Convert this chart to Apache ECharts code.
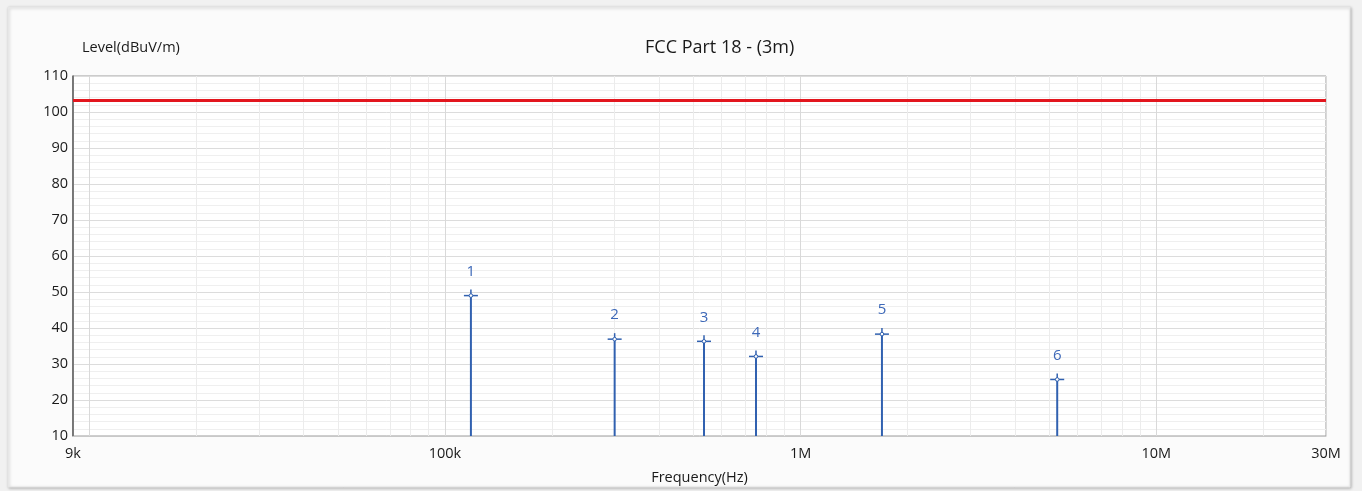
<!DOCTYPE html>
<html>
<head>
<meta charset="utf-8">
<script src="https://cdn.jsdelivr.net/npm/echarts@6/dist/echarts.min.js"></script>
<style>
html,body{margin:0;padding:0;background:#f1f1f1;}
#c{width:1362px;height:491px;}
</style>
</head>
<body>
<div id="c"></div>
<script>
// ---- data ----
var peakLabels = ['1','2','3','4','5','6'];
var peakFreqs  = [118300, 300000, 535000, 749000, 1693000, 5265000];
var peakLevels = [49.0, 36.9, 36.3, 32.1, 38.3, 25.7];
var limitFreqs  = [9000, 30000000];
var limitLevels = [103.2, 103.2];
var xTickValues = [9000, 100000, 1000000, 10000000, 30000000];
var xTickLabels = ['9k', '100k', '1M', '10M', '30M'];
var yMin = 10, yMax = 110, yStep = 10;
var xMin = 9000, xMax = 30000000;

// minor vertical grid positions (2..9 x decade)
var minorFreqs = [];
[1e4, 1e5, 1e6, 1e7].forEach(function (d) {
  for (var k = 2; k <= 9; k++) { var f = d * k; if (f > xMin && f < xMax) minorFreqs.push(f); }
});

var FONT = '"Open Sans", "Noto Sans", sans-serif';
var chart = echarts.init(document.getElementById('c'), null, {renderer: 'canvas'});

function xLabel(v) {
  for (var i = 0; i < xTickValues.length; i++) {
    if (Math.abs(v - xTickValues[i]) / xTickValues[i] < 1e-6) return xTickLabels[i];
  }
  return '';
}

var peakData = peakFreqs.map(function (f, i) { return [f, peakLevels[i], peakLabels[i]]; });
var limitData = limitFreqs.map(function (f, i) { return [f, limitLevels[i]]; });

var BLUE = '#3161b0';

chart.setOption({
  animation: false,
  backgroundColor: 'transparent',
  graphic: [{
    type: 'rect', z: -10,
    shape: {x: 8, y: 7, width: 1342, height: 480},
    style: {fill: '#fbfbfb', stroke: '#e4e4e4', lineWidth: 1,
            shadowBlur: 3, shadowColor: 'rgba(0,0,0,0.25)', shadowOffsetX: 1, shadowOffsetY: 1}
  }],
  title: [{
    text: 'FCC Part 18 - (3m)', left: 640, top: 34,
    textStyle: {fontFamily: FONT, fontSize: 18, fontWeight: 'normal', color: '#1a1a1a'}
  }, {
    text: 'Level(dBuV/m)', left: 77, top: 35,
    textStyle: {fontFamily: FONT, fontSize: 14.5, fontWeight: 'normal', color: '#1a1a1a'}
  }],
  grid: {left: 73, right: 36, top: 76, bottom: 55, show: true, borderColor: '#9c9c9c', borderWidth: 1, backgroundColor: '#fff'},
  xAxis: {
    type: 'log', logBase: 10, min: xMin, max: xMax,
    name: 'Frequency(Hz)', nameLocation: 'middle', nameGap: 34,
    nameTextStyle: {fontFamily: FONT, fontSize: 14.5, color: '#1a1a1a'},
    axisLine: {show: true, lineStyle: {color: '#c8c8c8', width: 1}},
    axisTick: {show: false},
    axisLabel: {formatter: xLabel, fontFamily: FONT, fontSize: 14.5, color: '#1a1a1a', margin: 10,
                showMinLabel: true, showMaxLabel: true},
    splitLine: {show: true, lineStyle: {color: '#d9d9d9', width: 1}},
    minorTick: {show: false}, minorSplitLine: {show: false}
  },
  yAxis: {
    type: 'value', min: yMin, max: yMax, interval: yStep,
    axisLine: {show: true, lineStyle: {color: '#5a5a5a', width: 1.5}},
    axisTick: {show: false},
    axisLabel: {fontFamily: FONT, fontSize: 14.5, color: '#1a1a1a', margin: 5},
    splitLine: {show: true, lineStyle: {color: '#dcdcdc', width: 1}},
    minorTick: {show: false, splitNumber: 5},
    minorSplitLine: {show: true, lineStyle: {color: '#efefef', width: 1}}
  },
  series: [{
    type: 'line', silent: true, data: [], z: 1,
    markLine: {
      silent: true, symbol: 'none', label: {show: false},
      lineStyle: {color: '#ececec', width: 1, type: 'solid'},
      emphasis: {disabled: true},
      data: minorFreqs.map(function (f) { return {xAxis: f}; })
    }
  }, {
    type: 'line', name: 'Limit', data: limitData, showSymbol: false, symbol: 'none', z: 5,
    lineStyle: {color: '#e3161e', width: 3}
  }, {
    type: 'custom', name: 'Peaks', z: 6,
    data: peakData,
    renderItem: function (params, api) {
      var f = api.value(0), v = api.value(1);
      var lab = peakLabels[params.dataIndex];
      var p = api.coord([f, v]);
      var b = api.coord([f, yMin]);
      return {type: 'group', children: [
        {type: 'line', shape: {x1: p[0], y1: p[1], x2: b[0], y2: b[1]}, style: {stroke: BLUE, lineWidth: 2}},
        {type: 'line', shape: {x1: p[0] - 7, y1: p[1], x2: p[0] + 7, y2: p[1]}, style: {stroke: BLUE, lineWidth: 1.5}},
        {type: 'line', shape: {x1: p[0], y1: p[1] - 6, x2: p[0], y2: p[1]}, style: {stroke: BLUE, lineWidth: 1.5}},
        {type: 'circle', shape: {cx: p[0], cy: p[1], r: 1.8}, style: {fill: '#fff', stroke: BLUE, lineWidth: 1}},
        {type: 'text', x: p[0], y: p[1] - 24, style: {text: lab, fill: '#3d68b8', font: '15px ' + FONT, align: 'center', verticalAlign: 'middle'}}
      ]};
    }
  }]
});
</script>
</body>
</html>
